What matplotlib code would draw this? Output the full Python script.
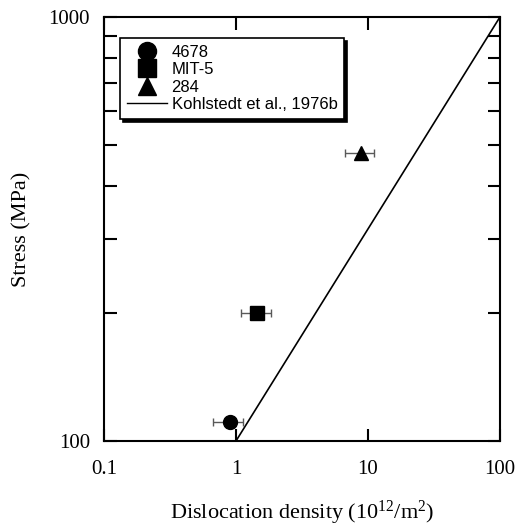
import matplotlib
matplotlib.use("Agg")
import matplotlib.pyplot as plt
from matplotlib.lines import Line2D
from matplotlib.ticker import FixedLocator, NullLocator, NullFormatter

plt.rcParams["mathtext.fontset"] = "custom"
plt.rcParams["mathtext.rm"] = "Liberation Serif"
plt.rcParams["mathtext.it"] = "Liberation Serif:italic"

# data
labels = ["4678", "MIT-5", "284"]
markers = ["o", "s", "^"]
density = [0.90, 1.44, 8.85]
density_lo = [0.67, 1.09, 6.7]
density_hi = [1.13, 1.84, 11.1]
stress = [111, 200, 478]

# Kohlstedt et al., 1976b
kohl_density = [1, 100]
kohl_stress = [100, 1000]

fig = plt.figure(figsize=(5.2, 5.3), dpi=100)
ax = fig.add_axes([0.2, 0.168, 0.7615, 0.8])

ax.plot(kohl_density, kohl_stress, color="black", lw=1.2)
for i in range(len(labels)):
    xerr = [[density[i] - density_lo[i]], [density_hi[i] - density[i]]]
    ax.errorbar(density[i], stress[i], xerr=xerr, fmt=markers[i], color="black",
                ecolor="0.35", elinewidth=1, capsize=3, capthick=1, ms=10)

ax.set_xscale("log")
ax.set_yscale("log")
ax.set_xlim(0.1, 100)
ax.set_ylim(100, 1000)

ax.xaxis.set_major_locator(FixedLocator([0.1, 1, 10, 100]))
ax.xaxis.set_minor_locator(NullLocator())
ax.set_xticklabels(["0.1", "1", "10", "100"])
ax.yaxis.set_major_locator(FixedLocator([100, 1000]))
ax.set_yticklabels(["100", "1000"])
ax.yaxis.set_minor_locator(FixedLocator([200, 300, 400, 500, 600, 700, 800, 900]))
ax.yaxis.set_minor_formatter(NullFormatter())

ax.tick_params(which="both", direction="in", top=True, right=True, width=1.5,
               labelsize=15, length=9)
ax.tick_params(axis="x", pad=14)
ax.tick_params(axis="y", pad=10)
for lab in ax.get_xticklabels() + ax.get_yticklabels():
    lab.set_fontfamily("Liberation Serif")
for s in ax.spines.values():
    s.set_linewidth(1.5)

ax.set_xlabel("Dislocation density (10$^{12}$/m$^2$)", fontsize=16,
              fontfamily="Liberation Serif", labelpad=14)
ax.set_ylabel("Stress (MPa)", fontsize=16, fontfamily="Liberation Serif", labelpad=12)

handles = [Line2D([], [], ls="none", marker=m, color="black", ms=13) for m in markers]
handles.append(Line2D([], [], color="black", lw=1))
leg = ax.legend(handles, labels + ["Kohlstedt et al., 1976b"], loc="upper left",
                bbox_to_anchor=(0.04, 0.95), borderaxespad=0, frameon=True,
                shadow={"color": "black", "alpha": 1}, fancybox=False,
                prop={"family": "Liberation Sans", "size": 12}, handlelength=2.4,
                handletextpad=0.3, labelspacing=0.15, borderpad=0.4)
leg.get_frame().set_edgecolor("black")
leg.get_frame().set_linewidth(1.2)

fig.savefig("out.png", dpi=100)
